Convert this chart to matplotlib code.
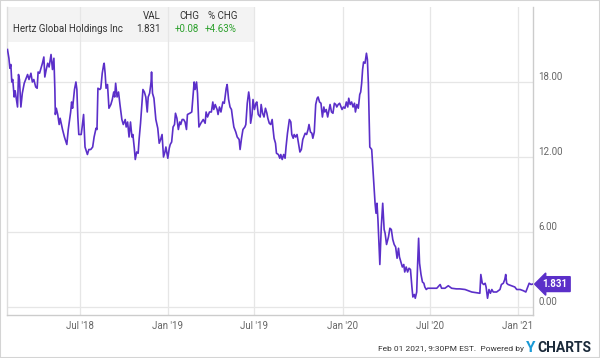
#!/usr/bin/env python3
# Hertz Global Holdings price chart, YCharts style
import pandas as pd
import matplotlib.pyplot as plt
from matplotlib.patches import Rectangle

plt.rcParams["font.family"] = ["Roboto", "DejaVu Sans"]

START = pd.Timestamp("2018-01-30")

# calendar days after START, and closing price (USD)
days = [
    1, 4, 6, 8, 10, 12, 15, 17, 19, 22, 24, 26, 29, 32, 36, 40, 43, 46, 50, 53,
    56, 60, 63, 65, 68, 71, 74, 77, 79, 82, 85, 88, 92, 95, 98, 100, 101, 103, 106, 109,
    111, 116, 120, 125, 128, 133, 135, 137, 141, 144, 146, 148, 150, 155, 157, 160, 163, 168, 171, 175,
    179, 182, 186, 188, 190, 194, 196, 199, 202, 203, 205, 207, 210, 213, 217, 220, 223, 225, 227, 230,
    233, 236, 240, 243, 247, 249, 252, 255, 258, 261, 263, 266, 268, 271, 274, 276, 279, 282, 284, 287,
    290, 293, 295, 298, 301, 302, 304, 307, 311, 315, 318, 321, 324, 327, 330, 332, 336, 339, 341, 344,
    347, 350, 352, 355, 358, 361, 363, 366, 369, 372, 375, 377, 382, 386, 389, 391, 393, 396, 398, 401,
    405, 410, 414, 416, 419, 423, 427, 430, 432, 435, 439, 441, 444, 447, 451, 454, 458, 460, 463, 466,
    469, 471, 474, 478, 481, 485, 487, 490, 493, 497, 499, 502, 505, 507, 509, 512, 514, 517, 520, 522,
    525, 529, 531, 534, 537, 540, 543, 545, 548, 551, 554, 556, 558, 561, 563, 567, 570, 572, 575, 578,
    581, 583, 586, 590, 593, 595, 598, 600, 603, 606, 609, 612, 615, 618, 620, 623, 626, 629, 631, 634,
    637, 639, 642, 645, 648, 650, 653, 656, 659, 662, 664, 667, 670, 673, 675, 678, 681, 684, 687, 689,
    692, 695, 698, 700, 703, 706, 709, 712, 714, 717, 720, 723, 726, 728, 731, 734, 737, 739, 741, 743,
    745, 748, 751, 753, 755, 758, 762, 765, 769, 771, 773, 775, 779, 782, 785, 788, 790, 793, 797, 800,
    803, 806, 809, 812, 815, 818, 820, 823, 826, 829, 831, 834, 837, 840, 843, 846, 848, 851, 853, 856,
    858, 860, 862, 865, 868, 871, 873, 876, 879, 887, 898, 905, 908, 915, 922, 929, 939, 946, 957, 971,
    980, 988, 990, 993, 996, 999, 1001, 1004, 1007, 1010, 1013, 1016, 1023, 1030, 1033, 1037, 1040, 1042, 1044, 1047,
    1054, 1061, 1065, 1072, 1079, 1084, 1088, 1091, 1095, 1098,
]
price = [
    20.6, 19.9, 19.1, 19.4, 18.0, 18.2, 16.8, 17.3, 16.8, 16.0, 18.6, 18.2, 16.0, 17.1, 17.9, 18.3, 18.6, 18.2, 18.7, 18.0,
    18.2, 17.6, 17.5, 18.8, 18.7, 19.1, 19.5, 20.0, 18.4, 19.0, 19.5, 19.2, 20.2, 19.0, 19.9, 17.4, 15.4, 15.9, 15.4, 14.6,
    15.1, 14.2, 13.6, 13.0, 14.2, 15.6, 16.4, 15.9, 17.4, 18.0, 17.4, 15.2, 13.8, 13.8, 14.4, 15.4, 12.8, 12.2, 12.6, 12.6,
    12.8, 13.6, 14.3, 14.2, 17.5, 17.4, 17.5, 18.7, 19.4, 19.5, 18.7, 17.5, 17.8, 15.9, 16.2, 16.6, 17.2, 16.8, 17.9, 16.8,
    17.2, 16.2, 15.0, 14.6, 15.0, 14.4, 14.8, 13.6, 14.8, 13.6, 13.8, 12.7, 11.8, 12.4, 12.3, 13.4, 14.7, 16.3, 17.4, 17.2,
    16.8, 15.6, 16.8, 17.1, 18.0, 18.8, 17.1, 16.7, 15.0, 14.3, 13.1, 13.4, 13.8, 12.0, 12.4, 12.8, 11.9, 12.7, 13.0, 13.2,
    14.4, 14.6, 15.5, 15.1, 14.2, 14.8, 14.6, 15.0, 15.0, 14.8, 14.2, 15.4, 15.5, 15.6, 17.1, 18.0, 17.4, 18.0, 17.1, 14.4,
    14.7, 15.0, 14.7, 15.6, 15.2, 15.6, 15.6, 16.4, 15.8, 16.2, 15.8, 15.4, 16.0, 15.6, 16.4, 16.3, 17.5, 17.8, 16.6, 16.0,
    15.8, 15.2, 14.4, 14.0, 13.6, 13.4, 12.6, 13.5, 14.2, 14.4, 14.6, 16.3, 17.2, 16.6, 14.7, 15.4, 16.6, 15.8, 16.3, 16.4,
    15.4, 15.2, 16.2, 15.5, 15.2, 15.9, 15.5, 15.1, 14.7, 14.6, 15.0, 14.2, 13.5, 13.1, 12.3, 12.2, 11.9, 12.2, 11.8, 12.2,
    11.9, 12.8, 13.9, 15.0, 14.8, 13.8, 13.5, 13.8, 13.6, 13.8, 13.1, 12.4, 12.6, 13.4, 13.6, 13.9, 13.8, 14.2, 14.6, 14.0,
    13.9, 13.5, 14.0, 16.2, 16.7, 16.8, 16.4, 16.3, 15.2, 16.0, 15.6, 15.8, 15.2, 15.8, 16.2, 15.6, 15.5, 16.3, 16.2, 16.0,
    16.2, 16.3, 16.0, 15.8, 16.0, 15.9, 16.4, 16.0, 16.7, 16.2, 16.4, 16.0, 16.3, 15.6, 16.2, 15.9, 17.0, 17.2, 17.9, 19.0,
    19.6, 19.5, 20.3, 19.8, 17.9, 12.8, 12.6, 10.7, 8.3, 7.5, 8.3, 7.0, 3.4, 6.4, 8.3, 6.2, 5.9, 5.0, 5.6, 6.3,
    6.2, 5.4, 5.0, 4.8, 3.9, 4.7, 4.0, 3.6, 3.2, 3.4, 2.8, 3.2, 2.8, 3.1, 3.0, 1.6, 0.8, 1.0, 0.7, 1.2,
    3.5, 5.5, 3.5, 2.6, 2.0, 1.9, 1.6, 1.4, 1.5, 1.5, 1.5, 1.8, 1.5, 1.5, 1.7, 1.5, 1.45, 1.45, 1.4, 1.2,
    1.15, 1.1, 2.6, 1.9, 1.8, 1.9, 1.6, 0.7, 1.4, 1.1, 1.4, 1.2, 1.2, 1.4, 1.8, 1.9, 2.2, 2.6, 1.9, 1.8,
    1.7, 1.6, 1.4, 1.4, 1.3, 1.2, 1.6, 1.9, 1.8, 1.831,
]

y_ticks = [0, 6, 12, 18]
x_tick_dates = ["2018-07-01", "2019-01-01", "2019-07-01", "2020-01-01", "2020-07-01", "2021-01-01"]
x_tick_labels = ["Jul '18", "Jan '19", "Jul '19", "Jan '20", "Jul '20", "Jan '21"]

LINE = "#5b2fc9"
GRID = "#e6e6e6"
TXT = "#666666"
GREEN = "#2ca02c"

W, H = 600, 358


def px(x, y):
    """pixel position on the 600x358 canvas -> figure fraction"""
    return x / W, 1 - y / H


dates = START + pd.to_timedelta(days, unit="D")

fig = plt.figure(figsize=(6, 3.58), dpi=100)
ax = fig.add_axes([7 / W, 1 - 315 / H, 526 / W, 308 / H])

ax.plot(dates, price, color=LINE, lw=1.2, zorder=3)

ax.set_xlim(START, START + pd.Timedelta(days=1099))
ax.set_ylim(-0.64, 24.0)

ax.set_axisbelow(True)
ax.grid(True, color=GRID, lw=0.9)

ax.set_yticks(y_ticks)
ax.set_yticklabels([f"{v:.2f}" for v in y_ticks])
ax.yaxis.tick_right()
for lbl in ax.get_yticklabels():
    lbl.set_va("bottom")
ax.set_xticks(pd.to_datetime(x_tick_dates))
ax.set_xticklabels(x_tick_labels)
ax.tick_params(axis="both", length=0, labelsize=7, labelcolor=TXT)
ax.tick_params(axis="y", pad=4)
ax.tick_params(axis="x", pad=4)

ax.spines["top"].set_visible(False)
ax.spines["left"].set_color("#dddddd")
ax.spines["right"].set_color("#cccccc")
ax.spines["bottom"].set_color("#cccccc")
for s in ax.spines.values():
    s.set_linewidth(1.0)

# header table (sits under the grid lines)
ax.add_patch(Rectangle((0, 1 - 35 / 308), 248 / 526, 35 / 308, transform=ax.transAxes,
                       facecolor="#f3f3f3", edgecolor="none", zorder=0.2))
HDR = 7
fig.text(*px(13, 29), "Hertz Global Holdings Inc", fontsize=HDR, color="#333333", va="center")
fig.text(*px(161, 16), "VAL", fontsize=HDR, color="#333333", va="center", ha="right")
fig.text(*px(161, 29), "1.831", fontsize=HDR, color="#333333", va="center", ha="right")
fig.text(*px(199, 16), "CHG", fontsize=HDR, color="#333333", va="center", ha="right")
fig.text(*px(199, 29), "+0.08", fontsize=HDR, color=GREEN, va="center", ha="right")
fig.text(*px(237, 16), "% CHG", fontsize=HDR, color="#333333", va="center", ha="right")
fig.text(*px(237, 29), "+4.63%", fontsize=HDR, color=GREEN, va="center", ha="right")

# last value flag
ax.annotate(f"{price[-1]:.3f}", xy=(1, price[-1]), xycoords=("axes fraction", "data"),
            xytext=(7, 0), textcoords="offset points", va="center", ha="left",
            fontsize=7, color="white", fontweight="bold", annotation_clip=False,
            bbox=dict(boxstyle="larrow,pad=0.25", fc=LINE, ec=LINE))

# footer
fig.text(*px(524, 349), "Feb 01 2021, 9:30PM EST.  Powered by", fontsize=6, color="#333333",
         va="center", ha="right")
fig.text(*px(526, 348), "Y", fontsize=11, color="#1a9ad6", fontweight="bold", va="center", ha="left")
fig.text(*px(537, 348), "CHARTS", fontsize=10, color="#1b2a3a", fontweight="bold", va="center", ha="left")

# outer frame
fig.patches.append(Rectangle((0, 0), 1, 1, transform=fig.transFigure, fill=False,
                             edgecolor="#d4d4d4", lw=1.5))

fig.savefig("out.png", dpi=100)
